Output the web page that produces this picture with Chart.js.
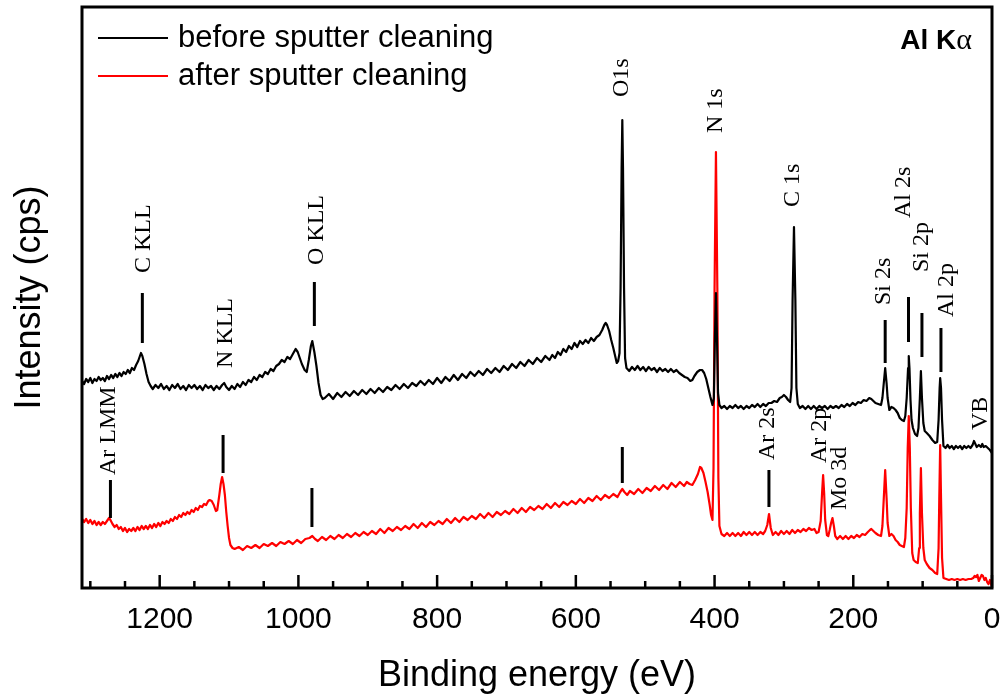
<!DOCTYPE html>
<html>
<head>
<meta charset="utf-8">
<script src="https://cdn.jsdelivr.net/npm/chart.js@4.4.1/dist/chart.umd.min.js"></script>
<style>
  html, body { margin: 0; padding: 0; background: #fff; }
  canvas { display: block; }
</style>
</head>
<body>
<canvas id="xpsChart" width="1000" height="694"></canvas>
<script>
// Survey spectra, [binding energy (eV), intensity (arb. cps offset)]
const beforeSpectrum = [
  [1312,207],[1309,204],[1306,209],[1303,206],[1300,210],[1297,205],[1294,209],[1291,207],[1288,211],[1285,208],
  [1282,210],[1279,207],[1276,212],[1273,209],[1270,213],[1267,210],[1264,214],[1261,211],[1258,215],[1255,212],
  [1252,216],[1249,214],[1246,218],[1243,215],[1240,220],[1237,218],[1234,223],[1231,227],[1229,231],[1227,235],
  [1225,232],[1222,224],[1219,214],[1216,206],[1213,202],[1210,199],[1206,203],[1202,200],[1198,204],[1194,199],
  [1190,202],[1186,198],[1182,203],[1178,200],[1174,204],[1170,199],[1166,202],[1162,198],[1158,203],[1154,200],
  [1150,203],[1146,199],[1142,202],[1138,198],[1134,203],[1130,200],[1126,202],[1122,198],[1118,202],[1114,199],
  [1110,203],[1107,205],[1104,201],[1100,198],[1096,202],[1092,199],[1088,204],[1084,201],[1080,206],[1076,203],
  [1072,208],[1068,206],[1064,211],[1060,208],[1056,213],[1052,211],[1048,216],[1044,214],[1040,219],[1036,217],
  [1032,222],[1028,224],[1024,228],[1020,226],[1016,231],[1012,229],[1008,234],[1004,239],[1001,236],[998,230],
  [995,224],[991,218],[988,216],[985,228],[982,242],[980,247],[977,236],[974,222],[971,205],[968,193],
  [965,189],[962,190],[956,194],[950,189],[944,195],[938,191],[932,196],[926,192],[920,197],[914,193],
  [908,198],[902,194],[896,199],[890,195],[884,200],[878,196],[872,201],[866,198],[860,203],[854,199],
  [848,204],[842,200],[836,205],[830,202],[824,207],[818,203],[812,208],[806,204],[800,210],[794,205],
  [788,211],[782,207],[776,213],[770,208],[764,214],[758,210],[752,216],[746,212],[740,217],[734,213],
  [728,219],[722,215],[716,220],[710,216],[704,222],[698,218],[692,224],[686,220],[680,226],[674,222],
  [668,228],[662,224],[656,230],[650,226],[644,232],[638,228],[634,233],[630,230],[626,236],[622,233],
  [618,239],[614,236],[610,242],[606,239],[602,245],[598,241],[594,247],[590,244],[586,248],[582,245],
  [578,250],[574,247],[570,251],[566,253],[562,258],[559,263],[557,265],[555,263],[552,257],[549,248],
  [546,240],[543,231],[541,225],[539,227],[537,235],[535.5,300],[534,420],[533,468],[532,420],[530.5,300],
  [529,230],[527,220],[523,217],[519,221],[515,218],[511,222],[507,218],[503,221],[499,217],[495,221],
  [491,218],[487,220],[483,216],[479,220],[475,217],[471,219],[467,216],[463,219],[459,216],[455,218],
  [451,215],[447,213],[443,211],[439,210],[435,207],[432,208],[429,212],[425,216],[421,218],[418,218],
  [415,215],[412,209],[409,200],[406,191],[403,183],[401,190],[399.5,250],[398,295],[396.5,250],[395,195],
  [393,183],[390,180],[386,182],[382,179],[378,182],[374,180],[370,183],[366,180],[362,182],[358,179],
  [354,182],[350,180],[346,183],[342,181],[338,184],[334,181],[330,184],[326,182],[322,185],[318,185],
  [314,187],[310,186],[306,190],[303,191],[300,193],[297,191],[294,188],[291,186],[289,200],[287.5,288],
  [285.5,361],[283.5,288],[282,200],[280,184],[277,180],[273,182],[269,179],[265,182],[261,179],[257,182],
  [253,179],[249,182],[245,180],[241,182],[237,179],[233,182],[229,180],[225,182],[221,180],[217,183],
  [213,181],[209,184],[205,182],[201,185],[197,183],[193,186],[189,185],[185,188],[181,187],[177,190],
  [174,189],[171,187],[168,185],[164,184],[160,183],[158,190],[156,205],[154,220],[152,205],[150.5,190],
  [148,178],[145,181],[142,180],[139,178],[136,175],[133,170],[130,168],[127,167],[125,172],[123,190],
  [121,220],[120,232],[119,220],[117.5,188],[116,168],[114,160],[111,154],[108,152],[106,160],[104,190],
  [102.5,217],[101,190],[99,165],[97,157],[94,155],[90,152],[86,148],[82,145],[79,146],[77,168],
  [75.5,200],[74.7,210],[73.5,200],[72,168],[70,142],[67,140],[64,143],[61,140],[58,142],[55,139],
  [52,142],[49,140],[46,142],[43,139],[40,142],[37,140],[34,142],[31,140],[28,143],[26,147],
  [24,144],[22,141],[19,143],[16,141],[14,144],[12,141],[9,142],[6,140],[3,138],[0,135]
];

const afterSpectrum = [
  [1312,69],[1309,66],[1306,69],[1303,65],[1300,68],[1297,64],[1294,67],[1291,63],[1288,66],[1285,63],
  [1282,66],[1279,64],[1276,67],[1273,70],[1271,68],[1268,64],[1265,61],[1262,63],[1259,59],[1256,61],
  [1253,57],[1250,60],[1247,56],[1244,59],[1241,57],[1238,60],[1235,57],[1232,61],[1229,58],[1226,62],
  [1223,59],[1220,62],[1217,59],[1214,63],[1211,60],[1208,64],[1205,61],[1202,65],[1199,62],[1196,66],
  [1193,64],[1190,67],[1187,65],[1184,69],[1181,67],[1178,71],[1175,69],[1172,73],[1169,71],[1166,75],
  [1163,73],[1160,76],[1157,74],[1154,78],[1151,76],[1148,80],[1145,78],[1142,82],[1139,81],[1136,84],
  [1133,83],[1130,87],[1128,88],[1125,87],[1122,83],[1119,77],[1117,78],[1114,93],[1112,104],[1110,111],
  [1108,104],[1106,93],[1104,76],[1102,62],[1100,50],[1098,43],[1095,40],[1092,39],[1086,41],[1080,38],
  [1074,42],[1068,40],[1062,43],[1056,40],[1050,44],[1044,42],[1038,45],[1032,42],[1026,46],[1020,44],
  [1014,47],[1008,44],[1002,48],[996,45],[990,49],[984,50],[980,52],[976,49],[972,47],[966,51],
  [960,48],[954,52],[948,49],[942,53],[936,50],[930,54],[924,51],[918,55],[912,52],[906,56],
  [900,53],[894,57],[888,54],[882,59],[876,55],[870,60],[864,57],[858,61],[852,58],[846,62],
  [840,59],[834,64],[828,60],[822,65],[816,61],[810,66],[804,63],[798,67],[792,64],[786,69],
  [780,65],[774,70],[768,66],[762,71],[756,68],[750,72],[744,69],[738,74],[732,70],[726,75],
  [720,71],[714,76],[708,73],[702,77],[696,74],[690,79],[684,75],[678,80],[672,76],[666,81],
  [660,78],[654,82],[648,79],[642,84],[636,80],[630,85],[624,81],[618,86],[612,83],[606,87],
  [600,84],[594,89],[588,85],[582,90],[576,87],[570,92],[564,88],[558,93],[552,90],[546,94],
  [540,91],[536,96],[533,99],[530,96],[526,93],[522,97],[516,94],[510,99],[504,95],[498,100],
  [492,97],[486,102],[480,98],[474,103],[468,99],[462,105],[456,101],[450,106],[444,102],[440,106],
  [436,104],[432,103],[428,108],[424,114],[421,121],[419,120],[416,115],[413,106],[410,96],[407,83],
  [405,73],[403,68],[401.5,120],[400,300],[398,436],[396,300],[394.5,110],[393,62],[390,54],[386,52],
  [382,55],[378,52],[374,55],[370,52],[366,55],[362,52],[358,56],[354,53],[350,56],[346,53],
  [342,56],[338,53],[334,56],[330,54],[327,57],[324,63],[321.5,74],[319,60],[316,53],[312,56],
  [308,53],[304,57],[300,54],[296,57],[292,54],[288,58],[284,55],[280,58],[276,56],[272,59],
  [268,57],[264,60],[260,58],[256,59],[253,55],[250,56],[247,67],[245,95],[243.5,113],[242,95],
  [240.5,68],[238,53],[236,52],[234,58],[232,65],[230,70],[228,62],[226,52],[223,49],[219,52],
  [215,49],[211,52],[207,49],[203,52],[199,50],[195,53],[191,51],[187,54],[183,53],[179,56],
  [176,58],[174,59],[171,57],[168,55],[164,53],[160,52],[158,62],[156,90],[154,118],[152,90],
  [150.5,65],[148,52],[145,54],[142,52],[139,48],[136,46],[133,43],[130,42],[127,41],[125,50],
  [123,80],[121.5,140],[120,172],[118.5,140],[117,80],[115,35],[113,28],[110,26],[107,25],[105,40],
  [104,75],[102.5,120],[101,75],[99,40],[97,28],[94,24],[90,20],[86,18],[82,15],[79,14],
  [77,40],[76,90],[74.7,143],[73.5,90],[72,30],[70,10],[66,9],[62,8],[58,9],[54,8],
  [50,9],[46,8],[42,9],[38,8],[34,9],[30,9],[27,10],[25,12],[23,11],[21,13],
  [19,7],[17,10],[15,13],[13,12],[11,8],[9,10],[7,6],[5,4],[3,8],[1,3],[0,1]
];

const seriesNames = ['before sputter cleaning', 'after sputter cleaning'];
const seriesColors = ['#000000', '#ff0000'];
const energyTicks = [0, 200, 400, 600, 800, 1000, 1200];

// peak labels: [text, energy, intensity where the vertical text starts]
const peakLabels = [
  ['C KLL', 1222.5, 315], ['N KLL', 1104.5, 220], ['O KLL', 973, 323], ['Ar LMM', 1273, 113],
  ['O1s', 533.4, 491], ['N 1s', 398, 455], ['C 1s', 287.5, 381], ['Ar 2s', 324, 128],
  ['Ar 2p', 248, 125], ['Mo 3d', 219, 78], ['Si 2s', 156.5, 283], ['Al 2s', 127.7, 370],
  ['Si 2p', 101, 316], ['Al 2p', 66, 271], ['VB', 17, 158]
];
// drop markers: [energy, lower intensity, upper intensity]
const peakMarkers = [
  [1225, 245, 295], [1108.6, 115, 153], [977, 262, 306], [980.5, 61, 100], [1271, 70, 108],
  [533, 105, 141], [321.6, 81, 118], [154, 225, 268], [120.4, 246, 291], [101, 231, 275], [73.6, 216, 260]
];

const toPoints = arr => arr.map(([x, y]) => ({ x, y }));

const decorations = {
  id: 'decorations',
  afterDraw(chart) {
    const { ctx, chartArea: a, scales: { x, y } } = chart;
    ctx.save();

    // frame
    ctx.strokeStyle = '#000';
    ctx.lineWidth = 3;
    ctx.strokeRect(a.left, a.top, a.right - a.left, a.bottom - a.top);

    // inward ticks on the energy axis
    ctx.lineWidth = 2.5;
    for (let v = 0; v <= 1300; v += 50) {
      const px = x.getPixelForValue(v);
      const len = v % 200 === 0 ? 13 : 7;
      ctx.beginPath();
      ctx.moveTo(px, a.bottom);
      ctx.lineTo(px, a.bottom - len);
      ctx.stroke();
    }

    // peak markers
    ctx.lineWidth = 3;
    for (const [e, y0, y1] of peakMarkers) {
      const px = x.getPixelForValue(e);
      ctx.beginPath();
      ctx.moveTo(px, y.getPixelForValue(y0));
      ctx.lineTo(px, y.getPixelForValue(y1));
      ctx.stroke();
    }

    // peak labels, written bottom to top
    ctx.fillStyle = '#000';
    ctx.font = '24px "Liberation Serif"';
    ctx.textAlign = 'left';
    ctx.textBaseline = 'middle';
    for (const [text, e, yv] of peakLabels) {
      ctx.save();
      ctx.translate(x.getPixelForValue(e), y.getPixelForValue(yv));
      ctx.rotate(-Math.PI / 2);
      ctx.fillText(text, 0, 0);
      ctx.restore();
    }

    // legend
    ctx.font = '31px "Liberation Sans"';
    chart.data.datasets.forEach((ds, i) => {
      const ly = 38 + i * 38;
      ctx.strokeStyle = ds.borderColor;
      ctx.lineWidth = 2;
      ctx.beginPath();
      ctx.moveTo(98, ly);
      ctx.lineTo(168, ly);
      ctx.stroke();
      ctx.fillStyle = '#000';
      ctx.fillText(ds.label, 178, ly);
    });

    // excitation source
    ctx.textBaseline = 'alphabetic';
    const head = 'Al K';
    ctx.font = 'bold 28px "Liberation Sans"';
    const wHead = ctx.measureText(head).width;
    ctx.font = '30px "Liberation Serif"';
    const wAlpha = ctx.measureText('\u03b1').width;
    const startX = 972 - wHead - wAlpha;
    ctx.font = 'bold 28px "Liberation Sans"';
    ctx.fillText(head, startX, 49);
    ctx.font = '30px "Liberation Serif"';
    ctx.fillText('\u03b1', startX + wHead, 49);

    ctx.restore();
  }
};

new Chart(document.getElementById('xpsChart').getContext('2d'), {
  type: 'line',
  data: {
    datasets: [
      { label: seriesNames[0], data: toPoints(beforeSpectrum), borderColor: seriesColors[0], borderWidth: 2.2, borderJoinStyle: 'round' },
      { label: seriesNames[1], data: toPoints(afterSpectrum), borderColor: seriesColors[1], borderWidth: 2.2, borderJoinStyle: 'round' }
    ]
  },
  options: {
    responsive: false,
    animation: false,
    layout: { padding: { top: 7, right: 8, left: 0, bottom: 0 } },
    elements: { point: { radius: 0 }, line: { tension: 0 } },
    plugins: { legend: { display: false }, tooltip: { enabled: false } },
    scales: {
      x: {
        type: 'linear',
        reverse: true,
        min: 0,
        max: 1312,
        afterBuildTicks(scale) { scale.ticks = energyTicks.map(value => ({ value })); },
        afterFit(scale) {
          scale.height = 106;
          scale.paddingLeft = 0;
          scale.paddingRight = 0;
        },
        grid: { display: false, drawTicks: false },
        border: { display: false },
        ticks: {
          autoSkip: false,
          maxRotation: 0,
          padding: 14,
          color: '#000',
          font: { family: 'Liberation Sans', size: 30 },
          callback: v => String(v)
        },
        title: {
          display: true,
          text: 'Binding energy (eV)',
          color: '#000',
          font: { family: 'Liberation Sans', size: 36, lineHeight: 1 },
          padding: { top: 0, bottom: 0 }
        }
      },
      y: {
        min: 0,
        max: 581,
        afterFit(scale) { scale.width = 82; },
        grid: { display: false, drawTicks: false },
        border: { display: false },
        ticks: { display: false },
        title: {
          display: true,
          text: 'Intensity (cps)',
          color: '#000',
          font: { family: 'Liberation Sans', size: 36, lineHeight: 1 },
          padding: { top: 12, bottom: 0 }
        }
      }
    }
  },
  plugins: [decorations]
});
</script>
</body>
</html>
